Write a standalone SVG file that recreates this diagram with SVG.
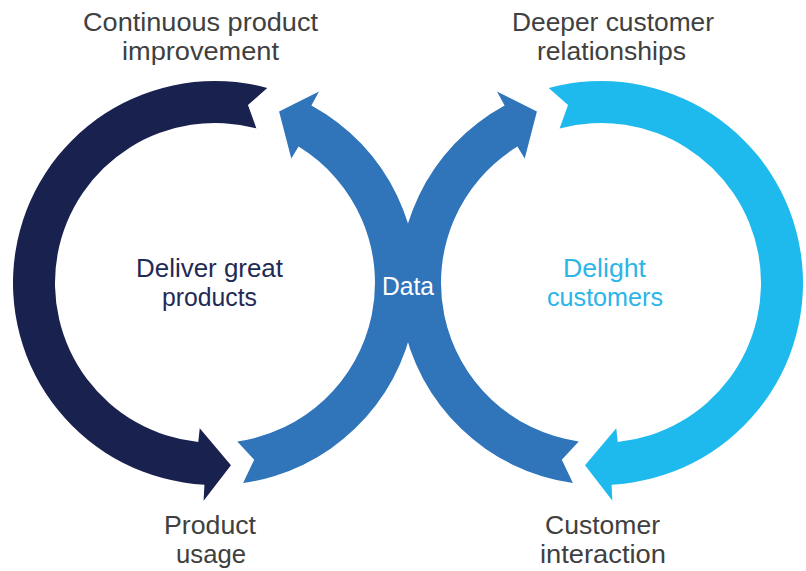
<svg xmlns="http://www.w3.org/2000/svg" width="806" height="571" viewBox="0 0 806 571">
<style>
.lbl{font-family:"Liberation Sans","Open Sans",sans-serif;font-size:25px;fill:#404040;text-anchor:middle}
.ctr{font-family:"Liberation Sans","Open Sans",sans-serif;font-size:25px;text-anchor:middle}
.navy{fill:#19224e}
.mid{fill:#3074ba}
.light{fill:#1fbaed}
</style>
<rect width="806" height="571" fill="#ffffff"/>
<g id="connectors">
<path id="arc-deliver" class="navy" d="M 267.28 87.88 A 202 202 0 1 0 204.43 484.72 L 203.59 500.70 L 230.95 465.30 L 199.74 428.20 L 198.28 442.12 A 160 160 0 1 1 256.41 128.45 L 247.98 105.03 Z"/>
<path id="arc-data-left" class="mid" d="M 243.11 483.03 A 202 202 0 0 0 311.39 105.48 L 319.02 91.42 L 279.09 111.59 L 291.28 158.51 L 298.60 146.58 A 160 160 0 0 1 237.27 441.44 L 254.18 459.71 Z"/>
<path id="arc-delight" class="light" d="M 548.72 87.88 A 202 202 0 1 1 611.57 484.72 L 612.41 500.70 L 585.05 465.30 L 616.26 428.20 L 617.72 442.12 A 160 160 0 1 0 559.59 128.45 L 568.02 105.03 Z"/>
<path id="arc-data-right" class="mid" d="M 572.89 483.03 A 202 202 0 0 1 504.61 105.48 L 496.98 91.42 L 536.91 111.59 L 524.72 158.51 L 517.40 146.58 A 160 160 0 0 0 578.73 441.44 L 561.82 459.71 Z"/>
</g>
<g id="data">
<text class="ctr" x="408" y="295" fill="#ffffff" textLength="52" lengthAdjust="spacingAndGlyphs">Data</text>
</g>
<g id="deliver-great-products">
<text class="ctr" x="209.5" y="277" fill="#1f2a55" textLength="147" lengthAdjust="spacingAndGlyphs">Deliver great</text>
<text class="ctr" x="209.5" y="306" fill="#1f2a55" textLength="95" lengthAdjust="spacingAndGlyphs">products</text>
</g>
<g id="delight-customers">
<text class="ctr" x="604.5" y="277" fill="#2bb5e8" textLength="83" lengthAdjust="spacingAndGlyphs">Delight</text>
<text class="ctr" x="605" y="306" fill="#2bb5e8" textLength="116" lengthAdjust="spacingAndGlyphs">customers</text>
</g>
<g id="continuous-product-improvement">
<text class="lbl" x="200.5" y="31" textLength="235" lengthAdjust="spacingAndGlyphs">Continuous product</text>
<text class="lbl" x="200.5" y="60" textLength="157" lengthAdjust="spacingAndGlyphs">improvement</text>
</g>
<g id="deeper-customer-relationships">
<text class="lbl" x="613" y="31" textLength="202" lengthAdjust="spacingAndGlyphs">Deeper customer</text>
<text class="lbl" x="611.5" y="60" textLength="149" lengthAdjust="spacingAndGlyphs">relationships</text>
</g>
<g id="product-usage">
<text class="lbl" x="210" y="534" textLength="92" lengthAdjust="spacingAndGlyphs">Product</text>
<text class="lbl" x="211" y="563" textLength="70" lengthAdjust="spacingAndGlyphs">usage</text>
</g>
<g id="customer-interaction">
<text class="lbl" x="602.5" y="534" textLength="115" lengthAdjust="spacingAndGlyphs">Customer</text>
<text class="lbl" x="603" y="563" textLength="126" lengthAdjust="spacingAndGlyphs">interaction</text>
</g>
</svg>
